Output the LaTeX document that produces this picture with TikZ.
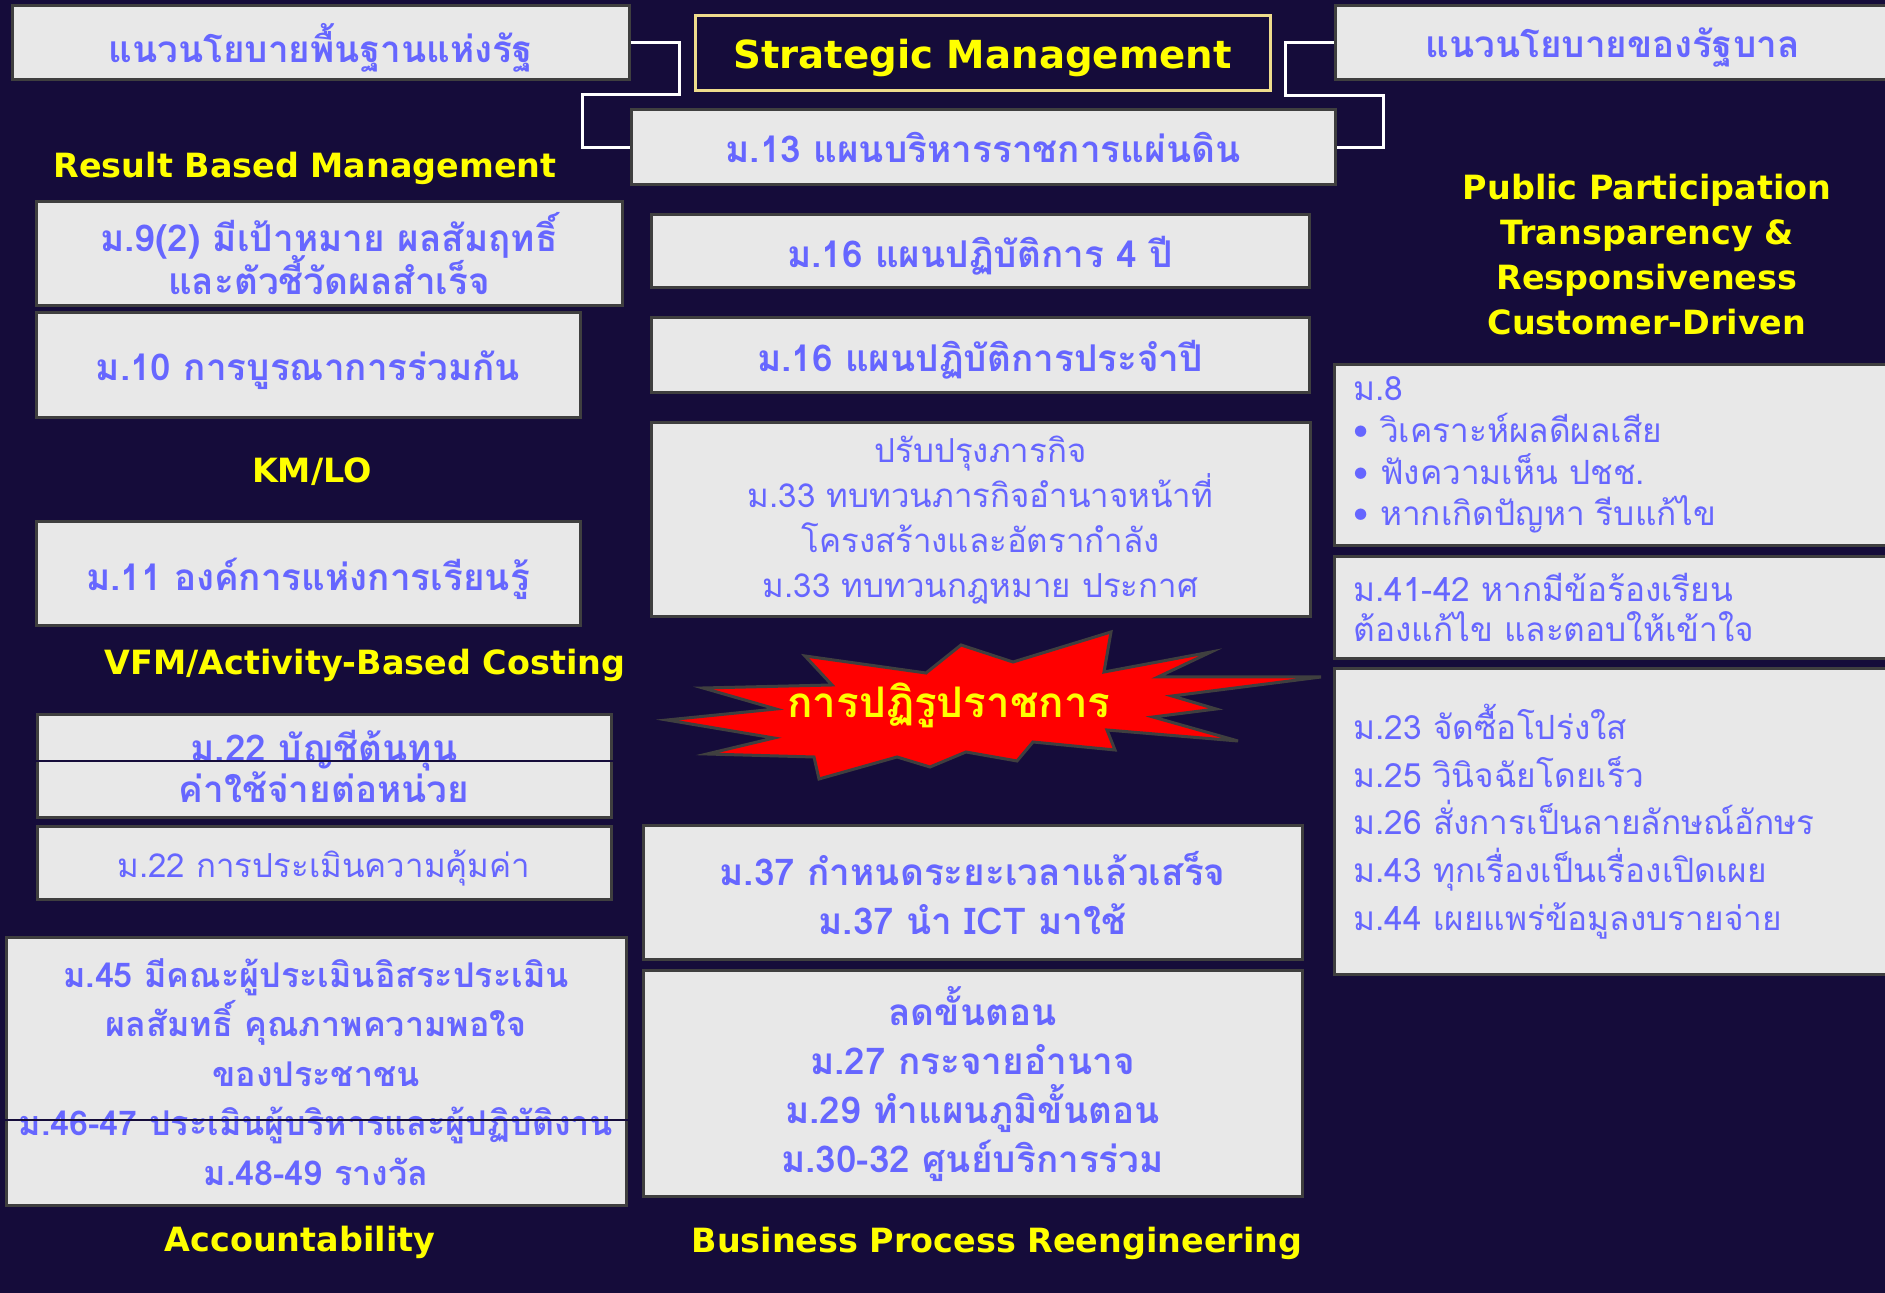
\documentclass[tikz,border=0pt]{standalone}
\usepackage{fontspec}
\newfontfamily\thaifont[Script=Thai]{Loma}
\newfontfamily\headfont{DejaVu Sans}
\definecolor{reformbg}{HTML}{150C3A}
\definecolor{reformbox}{HTML}{E8E8E8}
\definecolor{reformedge}{HTML}{3F3F3F}
\definecolor{reformtext}{HTML}{6666FF}
\definecolor{reformyellow}{HTML}{FFFF00}
\definecolor{reformgold}{HTML}{EEDC8C}
\definecolor{reformred}{HTML}{FF0000}
\newcommand{\tightlines}{\lineskiplimit=-100pt\relax}

\tikzset{
  pbox/.style={rectangle, draw=reformedge, fill=reformbox, line width=0.3mm,
    text=reformtext, inner sep=0pt, align=center,
    font=\thaifont\fontsize{9.4}{12.8}\selectfont},
  pboxb/.style={pbox, font=\thaifont\bfseries\fontsize{10.5}{14}\selectfont},
  pline/.style={pboxb, text depth=0pt},
  plist/.style={pbox, anchor=north west, align=left, text width=53.2mm,
    inner xsep=1.9mm},
  ylabel/.style={text=reformyellow, align=center,
    font=\headfont\bfseries\fontsize{9.5}{12.8}\selectfont},
  link/.style={draw=white, line width=0.3mm},
}

\begin{document}
\begin{tikzpicture}[x=0.1mm, y=-0.1mm]
  \fill[reformbg] (0,0) rectangle (1885,1293);
  \useasboundingbox (0,0) rectangle (1885,1293);

  % Top row
  \node[pline, minimum width=61.7mm, minimum height=7.4mm] (basic) at (320.5,43)
    {แนวนโยบายพื้นฐานแห่งรัฐ};
  \node[rectangle, draw=reformgold, line width=0.3mm, fill=reformbg,
    minimum width=57.5mm, minimum height=7.5mm, text=reformyellow, text depth=0pt,
    font=\headfont\bfseries\fontsize{11}{13}\selectfont] (strat) at (982.5,53.5)
    {Strategic Management};
  \node[pline, minimum width=55.5mm, minimum height=7.4mm] (gov) at (1612.5,43)
    {แนวนโยบายของรัฐบาล};
  \node[pline, minimum width=70.4mm, minimum height=7.5mm] (plan13) at (983,147.5)
    {ม.13 แผนบริหารราชการแผ่นดิน};

  \coordinate (lk1) at (679,95);
  \coordinate (lk2) at (582,95);
  \coordinate (rk1) at (1285,96);
  \coordinate (rk2) at (1383,96);
  \draw[link] (basic.east) -| (lk1) -- (lk2) |- (plan13.west);
  \draw[link] (gov.west) -| (rk1) -- (rk2) |- (plan13.east);

  % Left column
  \node[ylabel] (rbm) at (305,168) {Result Based Management};
  \node[pboxb, minimum width=58.6mm, minimum height=10.4mm,
    font=\thaifont\bfseries\fontsize{10.5}{12.2}\selectfont\tightlines] (m9) at (329,254)
    {ม.9(2) มีเป้าหมาย ผลสัมฤทธิ์\\และตัวชี้วัดผลสำเร็จ};
  \node[pline, minimum width=54.4mm, minimum height=10.5mm] (m10) at (308,365.5)
    {ม.10 การบูรณาการร่วมกัน};
  \node[ylabel] (kmlo) at (312,472) {KM/LO};
  \node[pline, minimum width=54.4mm, minimum height=10.4mm] (m11) at (308,574)
    {ม.11 องค์การแห่งการเรียนรู้};
  \node[ylabel] (vfm) at (365,665) {VFM/Activity-Based Costing};
  \node[pboxb, minimum width=57.4mm, minimum height=10.3mm,
    font=\thaifont\bfseries\fontsize{10.5}{11.6}\selectfont\tightlines] (m22a) at (324,766.5)
    {ม.22 บัญชีต้นทุน\\ค่าใช้จ่ายต่อหน่วย};
  \node[pbox, text depth=0pt, minimum width=57.4mm, minimum height=7.3mm] (m22b) at (324,863.5)
    {ม.22 การประเมินความคุ้มค่า};
  \node[pboxb, minimum width=62mm, minimum height=26.8mm,
    font=\thaifont\bfseries\fontsize{9.7}{14.1}\selectfont] (m45) at (316,1072)
    {ม.45 มีคณะผู้ประเมินอิสระประเมิน\\ผลสัมทธิ์ คุณภาพความพอใจ\\ของประชาชน\\ม.46-47 ประเมินผู้บริหารและผู้ปฏิบัติงาน\\ม.48-49 รางวัล};
  \node[ylabel] (acc) at (300,1242) {Accountability};
  \draw[reformbg, line width=0.15mm] (m22a.west |- 0,761) -- (m22a.east |- 0,761);
  \draw[reformbg, line width=0.15mm] (m45.west |- 0,1120) -- (m45.east |- 0,1120);

  % Centre column
  \node[pline, minimum width=65.8mm, minimum height=7.3mm] (m16a) at (980,251.5)
    {ม.16 แผนปฏิบัติการ 4 ปี};
  \node[pline, minimum width=65.8mm, minimum height=7.5mm] (m16b) at (980,355.5)
    {ม.16 แผนปฏิบัติการประจำปี};
  \node[pbox, minimum width=65.9mm, minimum height=19.4mm] (m33) at (980.5,520)
    {ปรับปรุงภารกิจ\\ม.33 ทบทวนภารกิจอำนาจหน้าที่\\โครงสร้างและอัตรากำลัง\\ม.33 ทบทวนกฎหมาย ประกาศ};

  \draw[fill=reformred, draw=reformedge, line width=0.3mm, line join=miter]
    (667,720) -- (776,709) -- (703,688) -- (832,685) -- (805,656) -- (926,673)
    -- (961,645) -- (1013,662) -- (1111,632) -- (1104,672) -- (1211,652)
    -- (1158,677) -- (1321,677) -- (1172,696) -- (1216,709) -- (1153,717)
    -- (1238,741) -- (1107,730) -- (1115,750) -- (1033,742) -- (1017,761)
    -- (966,752) -- (930,767) -- (897,757) -- (819,779) -- (814,757)
    -- (707,754) -- (774,738) -- cycle;
  \node[text=reformyellow, font=\thaifont\bfseries\fontsize{12}{14}\selectfont]
    (reform) at (949,705) {การปฏิรูปราชการ};

  \node[pboxb, minimum width=65.9mm, minimum height=13.4mm] (m37) at (972.5,893)
    {ม.37 กำหนดระยะเวลาแล้วเสร็จ\\ม.37 นำ ICT มาใช้};
  \node[pboxb, minimum width=65.9mm, minimum height=22.6mm] (m27) at (972.5,1084)
    {ลดขั้นตอน\\ม.27 กระจายอำนาจ\\ม.29 ทำแผนภูมิขั้นตอน\\ม.30-32 ศูนย์บริการร่วม};
  \node[ylabel] (bpr) at (997,1243) {Business Process Reengineering};

  % Right column
  \node[ylabel] (ppt) at (1647,255)
    {Public Participation\\Transparency \&\\Responsiveness\\Customer-Driven};
  \node[plist, minimum height=18.1mm, font=\thaifont\fontsize{9.5}{11.9}\selectfont] (m8) at (1333,363)
    {ม.8\\\textbullet\ วิเคราะห์ผลดีผลเสีย\\\textbullet\ ฟังความเห็น ปชช.\\\textbullet\ หากเกิดปัญหา รีบแก้ไข};
  \node[plist, minimum height=10.2mm, font=\thaifont\fontsize{9.5}{11.4}\selectfont] (m41) at (1333,555)
    {ม.41-42 หากมีข้อร้องเรียน\\ต้องแก้ไข และตอบให้เข้าใจ};
  \node[plist, minimum height=30.6mm, font=\thaifont\fontsize{9.5}{13.6}\selectfont] (m23) at (1333,667)
    {ม.23 จัดซื้อโปร่งใส\\ม.25 วินิจฉัยโดยเร็ว\\ม.26 สั่งการเป็นลายลักษณ์อักษร\\ม.43 ทุกเรื่องเป็นเรื่องเปิดเผย\\ม.44 เผยแพร่ข้อมูลงบรายจ่าย};
\end{tikzpicture}
\end{document}
